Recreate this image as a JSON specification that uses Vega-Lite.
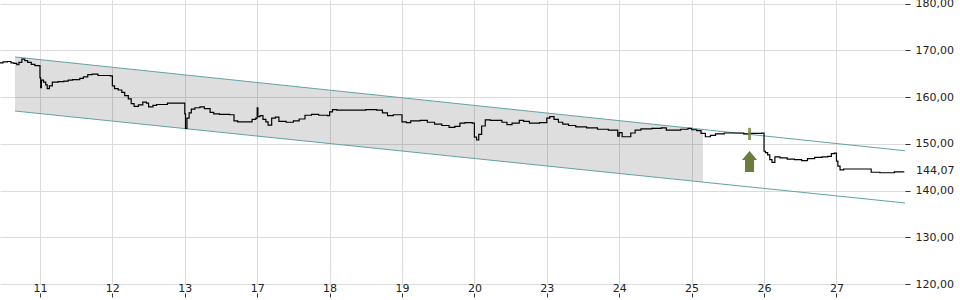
{
  "$schema": "https://vega.github.io/schema/vega-lite/v6.json",
  "autosize": "none",
  "width": 905,
  "height": 284,
  "padding": {"left": 0, "top": 0, "right": 55, "bottom": 16},
  "background": "white",
  "config": {"view": {"stroke": null}, "font": "DejaVu Sans"},
  "datasets": {
    "price": [
      {"t": -0.552, "v": 167.3}, {"t": -0.51, "v": 167.5}, {"t": -0.45, "v": 167.6}, {"t": -0.4, "v": 167.3},
      {"t": -0.36, "v": 167.2}, {"t": -0.32, "v": 166.9}, {"t": -0.29, "v": 167.4}, {"t": -0.25, "v": 168.1},
      {"t": -0.21, "v": 167.8}, {"t": -0.17, "v": 167.4}, {"t": -0.12, "v": 167.0}, {"t": -0.07, "v": 166.7},
      {"t": -0.03, "v": 166.7},
      {"t": 0.0, "v": 164.1}, {"t": 0.01, "v": 162.0}, {"t": 0.02, "v": 163.6}, {"t": 0.05, "v": 163.2},
      {"t": 0.08, "v": 162.6}, {"t": 0.1, "v": 161.8}, {"t": 0.13, "v": 162.4}, {"t": 0.17, "v": 163.2},
      {"t": 0.25, "v": 163.3}, {"t": 0.33, "v": 163.4}, {"t": 0.39, "v": 163.6}, {"t": 0.45, "v": 163.7},
      {"t": 0.55, "v": 164.0}, {"t": 0.6, "v": 164.3}, {"t": 0.66, "v": 164.8}, {"t": 0.72, "v": 164.9},
      {"t": 0.8, "v": 164.6}, {"t": 0.87, "v": 164.6}, {"t": 0.97, "v": 164.5},
      {"t": 1.0, "v": 162.4}, {"t": 1.03, "v": 161.8}, {"t": 1.08, "v": 161.5}, {"t": 1.13, "v": 161.0},
      {"t": 1.17, "v": 160.3}, {"t": 1.22, "v": 159.6}, {"t": 1.26, "v": 158.6}, {"t": 1.3, "v": 158.0},
      {"t": 1.36, "v": 158.3}, {"t": 1.42, "v": 158.9}, {"t": 1.47, "v": 158.7}, {"t": 1.5, "v": 157.9},
      {"t": 1.56, "v": 158.2}, {"t": 1.61, "v": 158.4}, {"t": 1.68, "v": 158.4}, {"t": 1.76, "v": 158.7},
      {"t": 1.85, "v": 158.7}, {"t": 1.95, "v": 158.7}, {"t": 1.98, "v": 158.7},
      {"t": 2.0, "v": 156.4}, {"t": 2.01, "v": 153.3}, {"t": 2.03, "v": 155.5}, {"t": 2.06, "v": 156.6},
      {"t": 2.09, "v": 157.4}, {"t": 2.14, "v": 157.7}, {"t": 2.21, "v": 157.9}, {"t": 2.27, "v": 157.5},
      {"t": 2.35, "v": 156.7}, {"t": 2.4, "v": 156.4}, {"t": 2.48, "v": 156.3}, {"t": 2.62, "v": 156.2},
      {"t": 2.68, "v": 154.9}, {"t": 2.73, "v": 154.7}, {"t": 2.84, "v": 154.7}, {"t": 2.93, "v": 155.2},
      {"t": 2.98, "v": 155.5},
      {"t": 3.0, "v": 157.7}, {"t": 3.01, "v": 155.8}, {"t": 3.04, "v": 156.0}, {"t": 3.08, "v": 155.2},
      {"t": 3.12, "v": 154.7}, {"t": 3.15, "v": 154.0}, {"t": 3.2, "v": 155.5}, {"t": 3.25, "v": 155.7},
      {"t": 3.3, "v": 154.8}, {"t": 3.4, "v": 154.6}, {"t": 3.5, "v": 154.9}, {"t": 3.58, "v": 155.3},
      {"t": 3.66, "v": 156.1}, {"t": 3.75, "v": 156.3}, {"t": 3.85, "v": 156.1}, {"t": 3.97, "v": 156.0},
      {"t": 4.0, "v": 156.8}, {"t": 4.04, "v": 157.3}, {"t": 4.1, "v": 157.2}, {"t": 4.2, "v": 157.2},
      {"t": 4.35, "v": 157.2}, {"t": 4.5, "v": 157.3}, {"t": 4.65, "v": 157.2}, {"t": 4.73, "v": 156.6},
      {"t": 4.8, "v": 156.0}, {"t": 4.88, "v": 156.2}, {"t": 4.97, "v": 156.2},
      {"t": 5.0, "v": 154.7}, {"t": 5.06, "v": 154.5}, {"t": 5.12, "v": 154.9}, {"t": 5.25, "v": 155.0},
      {"t": 5.35, "v": 154.6}, {"t": 5.45, "v": 154.2}, {"t": 5.55, "v": 153.9}, {"t": 5.65, "v": 153.5},
      {"t": 5.73, "v": 153.7}, {"t": 5.8, "v": 154.4}, {"t": 5.87, "v": 154.5}, {"t": 5.97, "v": 154.4},
      {"t": 6.0, "v": 151.4}, {"t": 6.03, "v": 150.8}, {"t": 6.06, "v": 152.0}, {"t": 6.1, "v": 153.8},
      {"t": 6.15, "v": 155.1}, {"t": 6.22, "v": 155.0}, {"t": 6.3, "v": 155.0}, {"t": 6.38, "v": 154.6},
      {"t": 6.45, "v": 154.1}, {"t": 6.52, "v": 154.4}, {"t": 6.62, "v": 155.0}, {"t": 6.68, "v": 154.8},
      {"t": 6.76, "v": 154.4}, {"t": 6.9, "v": 154.5}, {"t": 6.97, "v": 154.5},
      {"t": 7.0, "v": 155.5}, {"t": 7.04, "v": 155.8}, {"t": 7.1, "v": 155.2}, {"t": 7.16, "v": 154.6},
      {"t": 7.22, "v": 154.2}, {"t": 7.3, "v": 153.9}, {"t": 7.4, "v": 153.6}, {"t": 7.55, "v": 153.4},
      {"t": 7.7, "v": 153.1}, {"t": 7.85, "v": 152.9}, {"t": 7.95, "v": 152.9}, {"t": 7.98, "v": 151.6},
      {"t": 8.0, "v": 152.4}, {"t": 8.04, "v": 151.5}, {"t": 8.1, "v": 151.5}, {"t": 8.16, "v": 152.3},
      {"t": 8.22, "v": 152.9}, {"t": 8.3, "v": 153.2}, {"t": 8.45, "v": 153.3}, {"t": 8.58, "v": 153.4},
      {"t": 8.65, "v": 152.9}, {"t": 8.75, "v": 152.9}, {"t": 8.85, "v": 153.1}, {"t": 8.95, "v": 153.3},
      {"t": 9.0, "v": 153.0}, {"t": 9.07, "v": 152.8}, {"t": 9.13, "v": 152.2}, {"t": 9.19, "v": 151.5},
      {"t": 9.26, "v": 151.8}, {"t": 9.33, "v": 152.1}, {"t": 9.45, "v": 152.3}, {"t": 9.6, "v": 152.3},
      {"t": 9.72, "v": 152.1}, {"t": 9.8, "v": 152.2}, {"t": 9.92, "v": 152.2}, {"t": 9.97, "v": 152.3},
      {"t": 10.0, "v": 148.4}, {"t": 10.02, "v": 148.1}, {"t": 10.05, "v": 147.6}, {"t": 10.08, "v": 146.6},
      {"t": 10.11, "v": 146.0}, {"t": 10.15, "v": 147.2}, {"t": 10.22, "v": 147.0}, {"t": 10.32, "v": 146.7},
      {"t": 10.42, "v": 146.6}, {"t": 10.52, "v": 146.4}, {"t": 10.6, "v": 146.8}, {"t": 10.7, "v": 147.1},
      {"t": 10.8, "v": 147.2}, {"t": 10.88, "v": 147.3}, {"t": 10.93, "v": 147.9}, {"t": 10.97, "v": 148.0},
      {"t": 11.0, "v": 146.3}, {"t": 11.02, "v": 145.2}, {"t": 11.05, "v": 144.4}, {"t": 11.1, "v": 144.6},
      {"t": 11.25, "v": 144.6}, {"t": 11.4, "v": 144.6}, {"t": 11.48, "v": 143.9}, {"t": 11.6, "v": 143.8},
      {"t": 11.7, "v": 143.8}, {"t": 11.8, "v": 144.0}, {"t": 11.93, "v": 144.07}
    ],
    "channel": [
      {"line": "upper", "t": -0.345, "v": 168.56}, {"line": "upper", "t": 11.947, "v": 148.5},
      {"line": "lower", "t": -0.345, "v": 157.0}, {"line": "lower", "t": 11.947, "v": 137.33}
    ],
    "shade": [
      {"t": -0.345, "v": 168.56, "lo": 157.0},
      {"t": 9.157, "v": 153.05, "lo": 141.8}
    ],
    "marker": [{"t": 9.8, "v": 153.4, "lo": 150.8}],
    "arrow": [{"t": 9.8, "v": 146.2}],
    "last": [{"t": 11.947, "v": 144.07, "label": "144,07"}]
  },
  "encoding": {
    "x": {
      "field": "t", "type": "quantitative",
      "scale": {"domain": [-0.552, 11.947], "nice": false, "zero": false},
      "axis": {
        "title": null, "orient": "bottom",
        "values": [0, 1, 2, 3, 4, 5, 6, 7, 8, 9, 10, 11],
        "labelExpr": "['11','12','13','17','18','19','20','23','24','25','26','27'][datum.value]",
        "grid": true, "gridColor": "#dcdcdc", "gridWidth": 1,
        "domain": false, "ticks": true, "tickColor": "#333333", "tickSize": 4,
        "offset": 9, "labelPadding": -15, "labelFont": "DejaVu Sans", "labelFontSize": 11,
        "labelColor": "#222222", "labelFlush": false, "labelOverlap": false, "labelAngle": 0
      }
    },
    "y": {
      "field": "v", "type": "quantitative",
      "scale": {"domain": [120, 180.75], "nice": false, "zero": false},
      "axis": {
        "title": null, "orient": "right",
        "values": [120, 130, 140, 150, 160, 170, 180],
        "labelExpr": "replace(format(datum.value, '.2f'), '.', ',')",
        "grid": true, "gridColor": "#dcdcdc", "gridWidth": 1,
        "domain": false, "ticks": true, "tickColor": "#333333", "tickSize": 5,
        "labelPadding": 5, "labelFont": "DejaVu Sans", "labelFontSize": 11,
        "labelColor": "#222222", "labelFlush": false, "labelOverlap": false
      }
    }
  },
  "layer": [
    {
      "data": {"name": "shade"},
      "mark": {"type": "area", "color": "#000000", "opacity": 0.13},
      "encoding": {"y2": {"field": "lo"}}
    },
    {
      "data": {"name": "channel"},
      "mark": {"type": "line", "color": "#5fa3a6", "strokeWidth": 1},
      "encoding": {"detail": {"field": "line"}}
    },
    {
      "data": {"name": "price"},
      "mark": {"type": "line", "color": "#000000", "strokeWidth": 1.2, "interpolate": "step-after"},
      "encoding": {}
    },
    {
      "data": {"name": "marker"},
      "mark": {"type": "rule", "color": "#7d8c45", "strokeWidth": 3, "opacity": 0.85},
      "encoding": {"y2": {"field": "lo"}}
    },
    {
      "data": {"name": "arrow"},
      "mark": {
        "type": "point", "filled": true, "color": "#6b7c3b", "opacity": 1, "size": 441,
        "shape": "M0,-1L0.72,-0.15L0.43,-0.15L0.43,1L-0.43,1L-0.43,-0.15L-0.72,-0.15Z"
      },
      "encoding": {}
    },
    {
      "data": {"name": "last"},
      "mark": {"type": "text", "align": "left", "baseline": "middle", "dx": 11, "font": "DejaVu Sans", "fontSize": 11, "color": "#222222"},
      "encoding": {"text": {"field": "label"}}
    }
  ]
}
